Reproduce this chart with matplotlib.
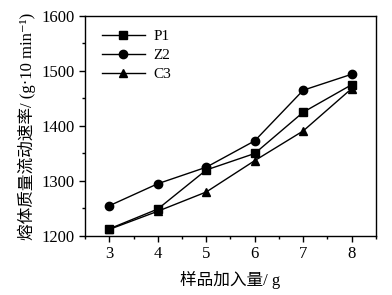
import matplotlib
matplotlib.use("Agg")
import matplotlib.pyplot as plt
from matplotlib.ticker import MultipleLocator

plt.rcParams['font.family'] = ['Liberation Serif', 'Noto Sans CJK SC', 'DejaVu Sans']

x = [3, 4, 5, 6, 7, 8]
p1 = [1213, 1249, 1320, 1350, 1425, 1475]
z2 = [1255, 1295, 1325, 1373, 1465, 1494]
c3 = [1212, 1245, 1280, 1337, 1391, 1468]

fig = plt.figure(figsize=(3.92, 2.95), dpi=100)
ax = fig.add_axes([0.217, 0.2, 0.742, 0.746])

ax.plot(x, p1, color='black', lw=1, marker='s', ms=5.5, label='P1')
ax.plot(x, z2, color='black', lw=1, marker='o', ms=6, label='Z2')
ax.plot(x, c3, color='black', lw=1, marker='^', ms=6, label='C3')

ax.set_xlim(2.5, 8.5)
ax.set_ylim(1200, 1600)
ax.xaxis.set_major_locator(MultipleLocator(1))
ax.xaxis.set_minor_locator(MultipleLocator(0.5))
ax.yaxis.set_major_locator(MultipleLocator(100))
ax.yaxis.set_minor_locator(MultipleLocator(50))
ax.tick_params(which='both', direction='out', top=False, right=False, labelsize=12)
ax.tick_params(which='major', length=4, width=1)
ax.tick_params(which='minor', length=2.5, width=1)
for s in ax.spines.values():
    s.set_linewidth(1)

ax.set_xlabel('样品加入量/ g', fontsize=12, labelpad=6)
ax.set_ylabel('熔体质量流动速率/ (g·10 min⁻¹)', fontsize=12, labelpad=4)

ax.legend(loc='upper left', frameon=False, fontsize=11, handlelength=2.8,
          bbox_to_anchor=(0.01, 1.0), labelspacing=0.35, handletextpad=0.6)

fig.savefig('out.png', dpi=100)
